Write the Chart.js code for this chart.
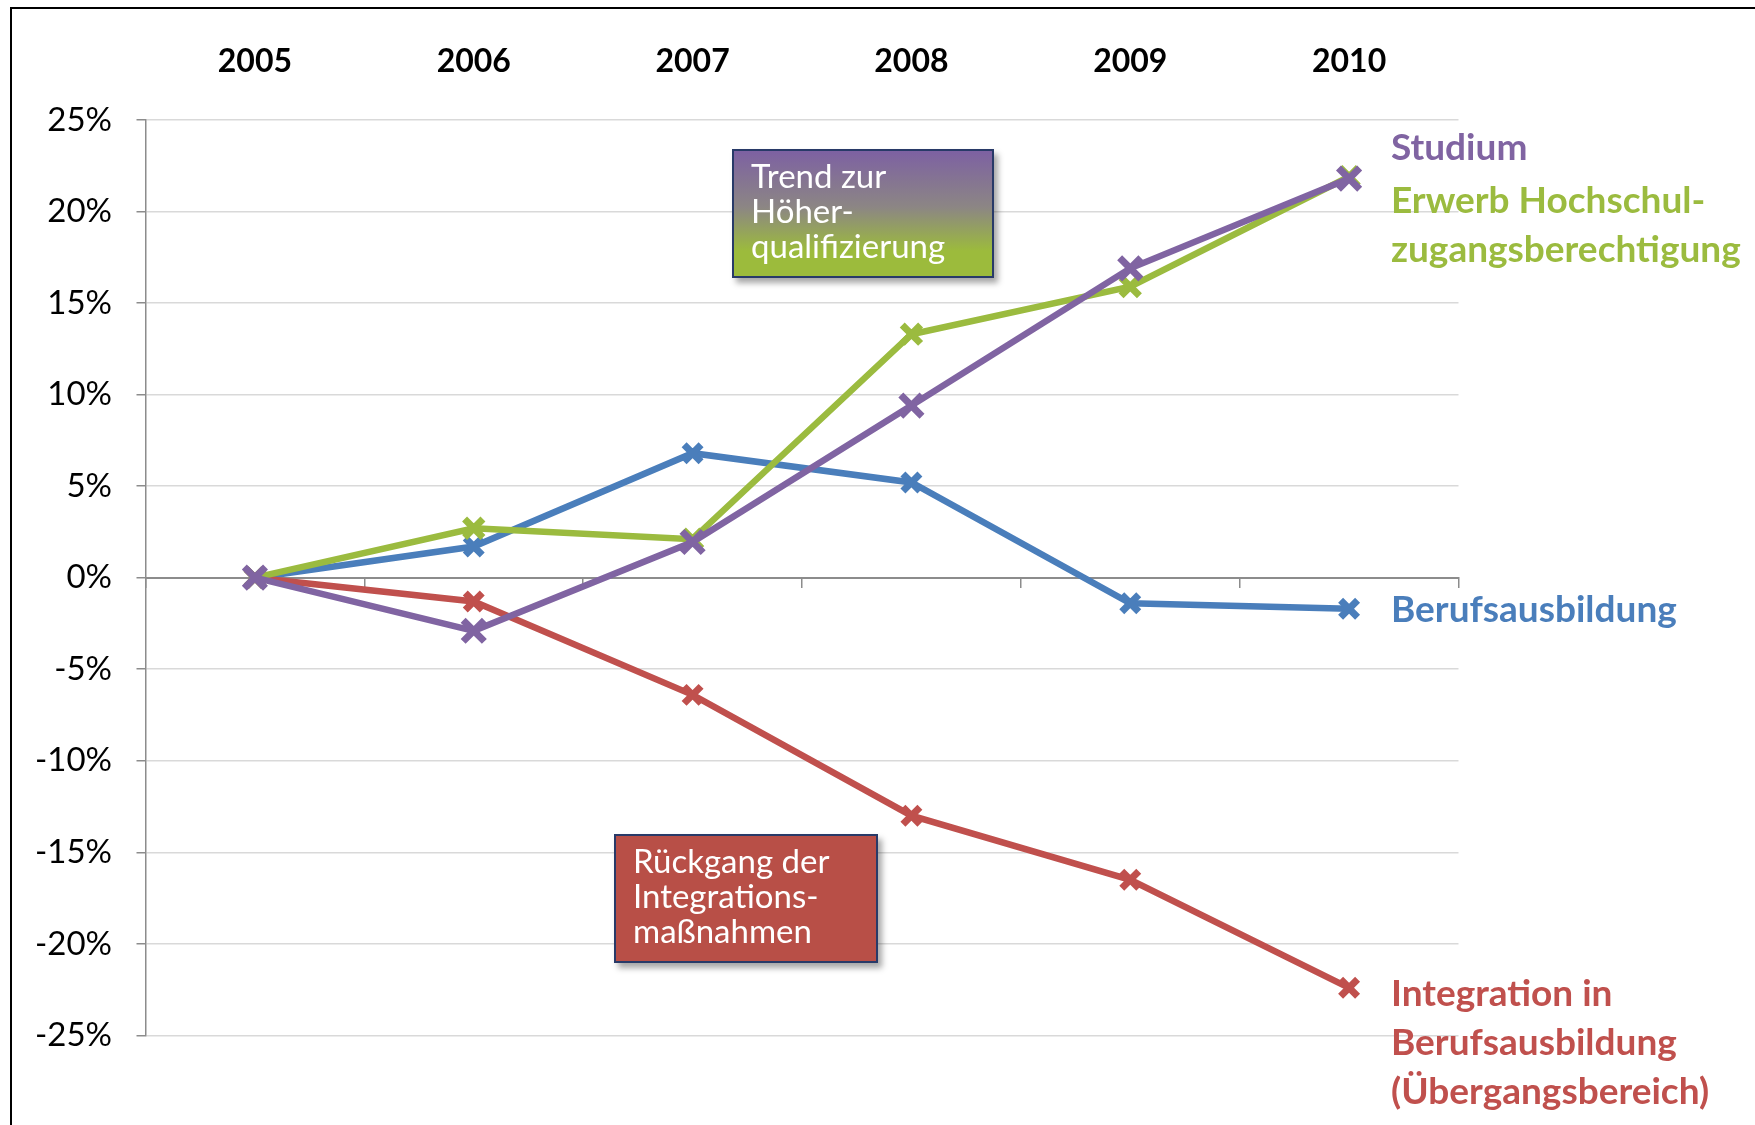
<!DOCTYPE html>
<html lang="de">
<head>
<meta charset="utf-8">
<title>Trend zur Höherqualifizierung</title>
<script src="https://cdn.jsdelivr.net/npm/chart.js@4.4.1/dist/chart.umd.min.js"></script>
<style>
  html, body { margin: 0; padding: 0; background: #fff; overflow: hidden; }
  body { width: 1755px; height: 1125px; position: relative; font-family: 'Lato', 'Open Sans', sans-serif; }
  .frame { position: absolute; left: 10px; top: 7px; width: 1800px; height: 1200px; border: 2px solid #000; box-sizing: border-box; }
  .wrap { position: absolute; left: 0; top: 0; width: 1755px; height: 1125px; }
  .lbl { position: absolute; font-weight: 700; font-size: 37px; line-height: 49px; white-space: nowrap; }
  .box { position: absolute; box-sizing: border-box; border: 2px solid #283a68; color: #fff;
         font-size: 33px; line-height: 35px; padding: 7px 0 0 17px; box-shadow: 4px 5px 6px rgba(0,0,0,0.35); }
</style>
</head>
<body>
<div class="frame"></div>
<div class="wrap"><canvas id="trendChart"></canvas></div>

<div class="box" style="left:732px; top:149px; width:262px; height:129px;
     background: linear-gradient(to bottom, #7d61a2 0%, #8c8684 45%, #9cbb3c 80%, #9cbb3c 100%);">Trend zur<br>Höher-<br>qualifizierung</div>
<div class="box" style="left:614px; top:834px; width:264px; height:129px; background:#b84f47;">Rückgang der<br>Integrations-<br>maßnahmen</div>

<div class="lbl" style="left:1391px; top:121px; color:#8064a2;">Studium</div>
<div class="lbl" style="left:1391px; top:174px; color:#9bbb3f;">Erwerb Hochschul-<br>zugangsberechtigung</div>
<div class="lbl" style="left:1391px; top:583px; color:#4a7ebb;">Berufsausbildung</div>
<div class="lbl" style="left:1391px; top:967px; color:#c0504d;">Integration in<br>Berufsausbildung<br>(Übergangsbereich)</div>

<script>
// ---- Data (change in % relative to 2005) ----
const years = ['2005', '2006', '2007', '2008', '2009', '2010'];
const berufsausbildung = [0, 1.7, 6.8, 5.2, -1.4, -1.7];
const integration = [0, -1.3, -6.4, -13.0, -16.5, -22.4];
const hochschulzugang = [0, 2.7, 2.1, 13.3, 15.9, 21.9];
const studium = [0, -2.9, 1.95, 9.4, 16.9, 21.8];
const yTicks = [-25, -20, -15, -10, -5, 0, 5, 10, 15, 20, 25];

const axisGray = '#8c8c8c';
const gridGray = '#d9d9d9';

function series(label, values, color, order, radius) {
  return {
    label,
    data: values,
    borderColor: color,
    backgroundColor: color,
    borderWidth: 6.5,
    pointStyle: 'crossRot',
    pointRadius: radius,
    pointBorderWidth: 7,
    pointBorderColor: color,
    tension: 0,
    order,
  };
}

Chart.defaults.font.family = "'Lato', 'Open Sans', sans-serif";
Chart.defaults.color = '#000';

new Chart(document.getElementById('trendChart'), {
  type: 'line',
  data: {
    labels: years,
    datasets: [
      series('Berufsausbildung', berufsausbildung, '#4a7ebb', 3, 12),
      series('Integration in Berufsausbildung (Übergangsbereich)', integration, '#c0504d', 2, 12),
      series('Erwerb Hochschulzugangsberechtigung', hochschulzugang, '#9bbb3f', 1, 13),
      series('Studium', studium, '#8064a2', 0, 15),
    ]
  },
  options: {
    responsive: true,
    maintainAspectRatio: false,
    animation: false,
    layout: { padding: { left: 0, top: 0, right: 296.5, bottom: 89.6 } },
    plugins: {
      legend: { display: false },
      tooltip: { enabled: false },
    },
    scales: {
      x: {
        position: 'top',
        offset: true,
        grid: { display: false, drawTicks: false },
        border: { display: false },
        ticks: { font: { size: 32, weight: '700' }, padding: 39, color: '#000' },
        afterFit: s => { s.height = 120; },
      },
      x2: {
        type: 'category',
        position: { y: 0 },
        offset: true,
        grid: { display: true, offset: true, drawOnChartArea: false, drawTicks: true, tickLength: 9, color: axisGray, lineWidth: 1.5 },
        border: { display: true, color: axisGray, width: 2 },
        ticks: { display: false },
      },
      y: {
        min: -25,
        max: 25,
        afterBuildTicks: s => { s.ticks = yTicks.map(v => ({ value: v })); },
        grid: { color: gridGray, lineWidth: 1.5, tickLength: 9, tickColor: axisGray },
        border: { display: true, color: axisGray, width: 1.5 },
        ticks: { font: { size: 33 }, padding: 24.5, color: '#000', callback: v => v + '%' },
        afterFit: s => { s.width = 145.5; },
      }
    }
  }
});
</script>
</body>
</html>
